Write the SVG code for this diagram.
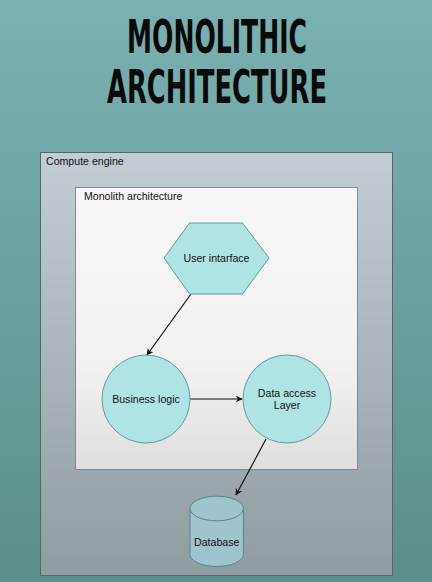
<svg xmlns="http://www.w3.org/2000/svg" width="432" height="582" viewBox="0 0 432 582">
<style>
.t{font-family:"Liberation Sans",Arial,sans-serif;font-size:10.6px;fill:#111}
.c{text-anchor:middle}
.node{fill:#b0e3e4;stroke:#5f9a9b;stroke-width:1}
.edge{stroke:#111;stroke-width:1.2;fill:none;marker-end:url(#ah)}
.title{font-family:"DejaVu Sans Condensed","DejaVu Sans",sans-serif;font-weight:bold;font-size:47px;fill:#0a0a0a;text-anchor:middle}
</style>
<defs>
<linearGradient id="bg" x1="0" y1="0" x2="0" y2="1"><stop offset="0" stop-color="#7ab1b1"/><stop offset="1" stop-color="#5c8f8b"/></linearGradient>
<linearGradient id="outer" x1="0" y1="0" x2="0" y2="1"><stop offset="0" stop-color="#c2ced4"/><stop offset="1" stop-color="#8f9ca1"/></linearGradient>
<linearGradient id="inner" x1="0" y1="0" x2="0" y2="1"><stop offset="0" stop-color="#f7f7f7"/><stop offset="0.65" stop-color="#f1f1f1"/><stop offset="1" stop-color="#dedede"/></linearGradient>
<marker id="ah" viewBox="0 0 10 10" refX="9" refY="5" markerWidth="7" markerHeight="7" markerUnits="userSpaceOnUse" orient="auto"><path d="M0,0 L10,5 L0,10 L3,5 Z" fill="#111"/></marker>
</defs>
<rect x="0" y="0" width="432" height="582" fill="url(#bg)"/>
<g id="title" transform="scale(0.62,1)">
<text class="title" x="350" y="53" textLength="290" lengthAdjust="spacingAndGlyphs">MONOLITHIC</text>
<text class="title" x="350" y="103" textLength="355" lengthAdjust="spacingAndGlyphs">ARCHITECTURE</text>
</g>
<g id="compute-engine">
<rect x="40.5" y="152.5" width="352" height="423" fill="url(#outer)" stroke="#55666b" stroke-width="1"/>
<text class="t" x="46" y="165">Compute engine</text>
</g>
<g id="monolith-architecture">
<rect x="75.5" y="187.5" width="282" height="282" fill="url(#inner)" stroke="#7f8a8e" stroke-width="1"/>
<text class="t" x="84" y="200">Monolith architecture</text>
</g>
<g id="connectors">
<line class="edge" x1="191" y1="294" x2="147" y2="355"/>
<line class="edge" x1="190" y1="399" x2="242" y2="399"/>
<line class="edge" x1="266" y1="439" x2="236" y2="495"/>
</g>
<g id="user-interface">
<polygon class="node" points="164,258 189.5,223 242.5,223 269,258 242.5,294 189.5,294"/>
<text class="t c" x="216.5" y="262">User intarface</text>
</g>
<g id="business-logic">
<circle class="node" cx="146" cy="399" r="44"/>
<text class="t c" x="146" y="403">Business logic</text>
</g>
<g id="data-access-layer">
<circle class="node" cx="287" cy="399" r="44"/>
<text class="t c" x="287" y="397">Data access</text>
<text class="t c" x="287" y="409">Layer</text>
</g>
<g id="database">
<path d="M190,508.5 L190,554.5 A26.7,12 0 0 0 243.4,554.5 L243.4,508.5" fill="#9fc4cd" stroke="#4f8791" stroke-width="1"/>
<ellipse cx="216.7" cy="508.5" rx="26.7" ry="12.3" fill="#9fc4cd" stroke="#4f8791" stroke-width="1"/>
<text class="t c" x="216.7" y="546">Database</text>
</g>
</svg>
